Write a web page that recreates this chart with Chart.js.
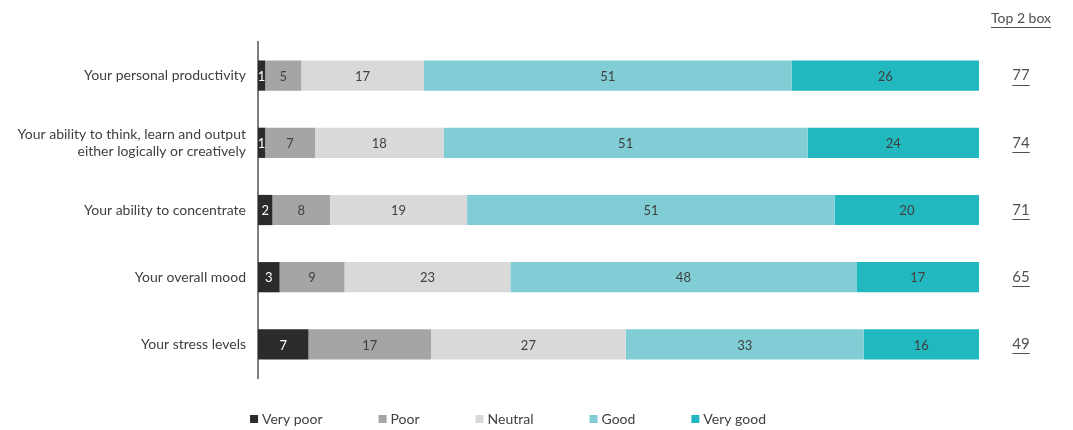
<!DOCTYPE html>
<html>
<head>
<meta charset="utf-8">
<script src="https://cdn.jsdelivr.net/npm/chart.js@4.4.1/dist/chart.umd.min.js"></script>
<style>
  html, body { margin: 0; padding: 0; background: #fff; }
  #wrap { width: 1073px; height: 430px; position: relative; }
</style>
</head>
<body>
<div id="wrap"><canvas id="chart"></canvas></div>
<script>
// Chart data
const categories = [
    'Your personal productivity',
    ['Your ability to think, learn and output', 'either logically or creatively'],
    'Your ability to concentrate',
    'Your overall mood',
    'Your stress levels'
];
const seriesNames = ['Very poor', 'Poor', 'Neutral', 'Good', 'Very good'];
const veryPoor = [1, 1, 2, 3, 7];
const poor = [5, 7, 8, 9, 17];
const neutral = [17, 18, 19, 23, 27];
const good = [51, 51, 51, 48, 33];
const veryGood = [26, 24, 20, 17, 16];
const top2Box = [77, 74, 71, 65, 49];

const colors = ['#2b2b2b', '#a5a5a5', '#d9d9d9', '#80cdd5', '#22b8c0'];
const FONT = 'Lato, "Open Sans", sans-serif';

const series = [veryPoor, poor, neutral, good, veryGood];
// 100% stacked: each row is scaled to its own total
const totals = categories.map((c, i) => series.reduce((s, arr) => s + arr[i], 0));

const datasets = series.map((arr, k) => ({
    label: seriesNames[k],
    data: arr.map((v, i) => v / totals[i] * 100),
    raw: arr,
    backgroundColor: colors[k],
    borderWidth: 0,
    barPercentage: 0.9,
    categoryPercentage: 0.5
}));

// value labels in the middle of every segment
const segmentLabels = {
    id: 'segmentLabels',
    afterDatasetsDraw(chart) {
        const ctx = chart.ctx;
        ctx.save();
        ctx.font = '13px ' + FONT;
        ctx.textAlign = 'center';
        ctx.textBaseline = 'middle';
        chart.data.datasets.forEach((ds, k) => {
            chart.getDatasetMeta(k).data.forEach((bar, i) => {
                ctx.fillStyle = k === 0 ? '#ffffff' : '#404040';
                ctx.fillText(ds.raw[i], (bar.x + bar.base) / 2, bar.y + 1);
            });
        });
        ctx.restore();
    }
};

// "Top 2 box" column on the right
const topBox = {
    id: 'topBox',
    afterDraw(chart) {
        const ctx = chart.ctx;
        const y = chart.scales.y;
        const cx = 1021;
        ctx.save();
        ctx.fillStyle = '#505050';
        ctx.strokeStyle = '#505050';
        ctx.lineWidth = 1;
        ctx.textAlign = 'center';
        ctx.textBaseline = 'middle';
        const underline = (txt, x, yy) => {
            const w = ctx.measureText(txt).width;
            ctx.fillText(txt, x, yy);
            ctx.beginPath();
            ctx.moveTo(x - w / 2, Math.round(yy + 9) + 0.5);
            ctx.lineTo(x + w / 2, Math.round(yy + 9) + 0.5);
            ctx.stroke();
        };
        ctx.font = '14px ' + FONT;
        underline('Top 2 box', cx, 18);
        ctx.font = '15px ' + FONT;
        top2Box.forEach((v, i) => underline(String(v), cx, y.getPixelForValue(i)));
        ctx.restore();
    }
};

// legend drawn along the bottom
const bottomLegend = {
    id: 'bottomLegend',
    afterDraw(chart) {
        const ctx = chart.ctx;
        ctx.save();
        ctx.font = '14px ' + FONT;
        ctx.textBaseline = 'middle';
        const box = 8, gap = 4, spacing = 56;
        const items = chart.data.datasets.map(ds => ({
            text: ds.label,
            color: ds.backgroundColor,
            w: box + gap + ctx.measureText(ds.label).width
        }));
        const total = items.reduce((s, it) => s + it.w, 0) + spacing * (items.length - 1);
        let x = 508 - total / 2;
        const yy = 419;
        items.forEach(it => {
            ctx.fillStyle = it.color;
            ctx.fillRect(x, yy - box / 2, box, box);
            ctx.fillStyle = '#404040';
            ctx.fillText(it.text, x + box + gap, yy);
            x += it.w + spacing;
        });
        ctx.restore();
    }
};

new Chart(document.getElementById('chart'), {
    type: 'bar',
    data: { labels: categories, datasets: datasets },
    options: {
        indexAxis: 'y',
        responsive: true,
        maintainAspectRatio: false,
        animation: false,
        layout: { padding: { top: 42, right: 94, bottom: 52, left: 0 } },
        plugins: {
            legend: { display: false },
            tooltip: { enabled: false }
        },
        scales: {
            x: {
                stacked: true,
                min: 0,
                max: 100,
                display: false
            },
            y: {
                stacked: true,
                grid: { display: false, drawTicks: false },
                border: { display: true, color: '#7f7f7f', width: 2 },
                ticks: {
                    color: '#404040',
                    font: { family: FONT, size: 14 },
                    padding: 12
                },
                afterFit(scale) { scale.width = 258; }
            }
        }
    },
    plugins: [segmentLabels, topBox, bottomLegend]
});
</script>
</body>
</html>
